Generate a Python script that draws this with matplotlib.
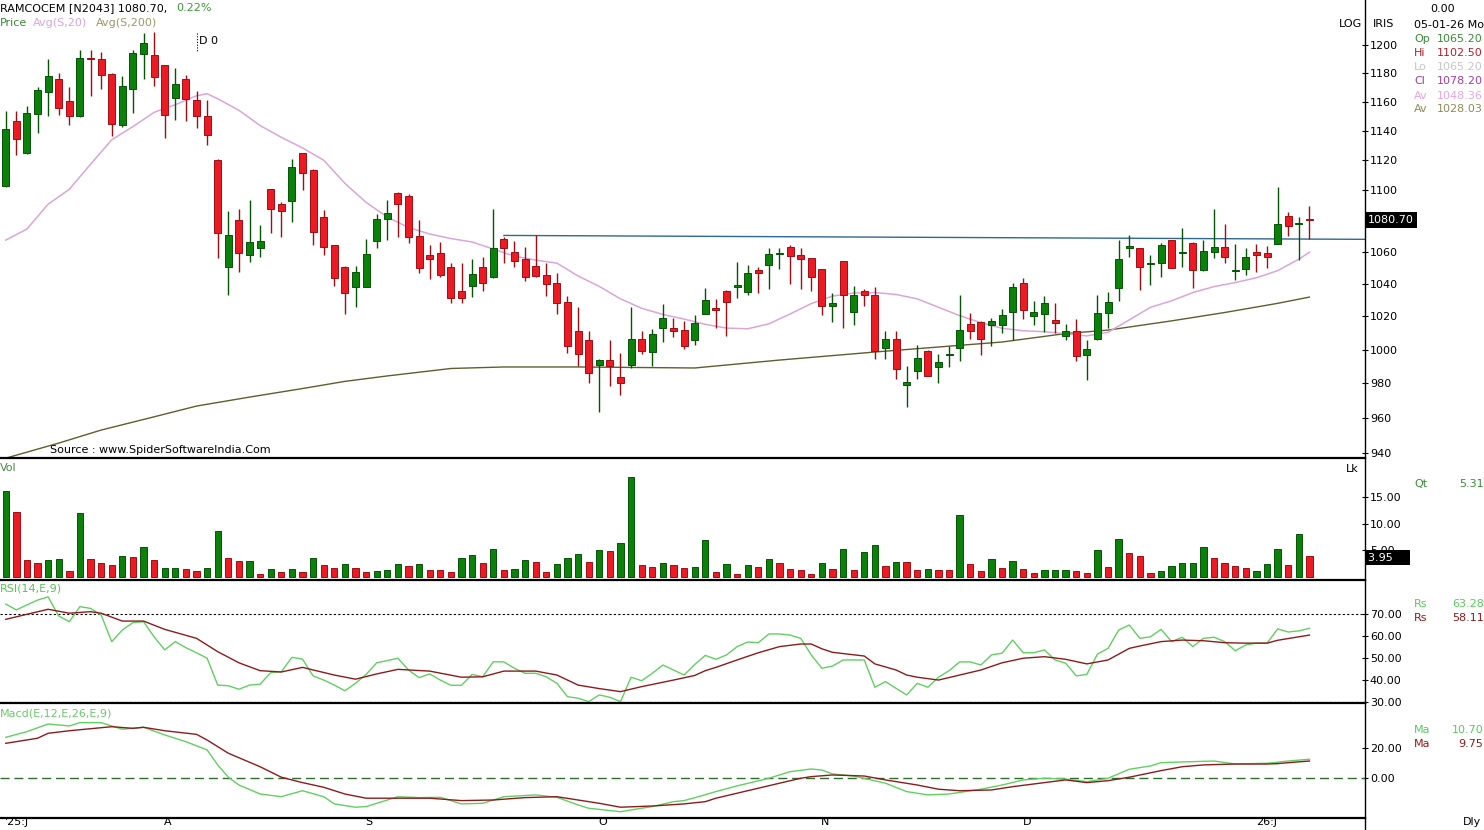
import matplotlib
matplotlib.use("Agg")
import matplotlib.pyplot as plt
import matplotlib.transforms as mtransforms
from matplotlib.lines import Line2D
from matplotlib.ticker import FixedLocator, NullLocator, FuncFormatter
import numpy as np

plt.rcParams["font.family"] = ["DejaVu Sans"]
plt.rcParams["font.size"] = 8

# ---- daily candles, 11 Jul 2025 .. 8 Jan 2026 ----
opens = [1103.1, 1146.9, 1124.6, 1151.5, 1166.9, 1175.9, 1160.7, 1149.9, 1190.5, 1190.0,
         1179.3, 1144.1, 1168.8, 1193.4, 1192.9, 1185.7, 1162.3, 1175.9, 1160.9, 1150.3,
         1120.5, 1050.8, 1080.6, 1058.1, 1062.8, 1100.7, 1090.8, 1093.0, 1124.6, 1113.8,
         1082.4, 1064.5, 1050.8, 1038.0, 1038.4, 1067.3, 1081.1, 1098.5, 1096.1, 1070.3,
         1058.1, 1059.2, 1050.4, 1035.7, 1039.0, 1050.8, 1044.2, 1068.4, 1060.2, 1055.4,
         1051.3, 1045.6, 1040.4, 1028.9, 1011.1, 1005.6, 990.6, 993.7, 983.4, 990.6,
         1006.4, 998.4, 1013.2, 1013.2, 1011.5, 1005.6, 1021.6, 1024.9, 1035.7, 1038.4,
         1035.3, 1048.8, 1051.9, 1058.6, 1063.4, 1058.1, 1056.1, 1049.4, 1026.1, 1054.4,
         1022.6, 1035.9, 1033.3, 1001.0, 1006.4, 979.0, 987.2, 999.4, 989.8, 996.9,
         1001.0, 1015.2, 1016.6, 1014.6, 1014.6, 1022.6, 1040.8, 1020.2, 1021.2, 1017.8,
         1008.0, 1011.1, 996.5, 1006.4, 1021.8, 1037.4, 1062.4, 1062.4, 1052.5, 1053.3,
         1067.7, 1059.2, 1066.0, 1048.8, 1060.2, 1063.4, 1048.2, 1049.2, 1060.2, 1059.6,
         1065.2, 1083.2, 1077.8, 1081.6]
highs = [1153.3, 1153.3, 1157.2, 1170.1, 1189.8, 1180.2, 1170.1, 1196.4, 1196.4, 1195.2,
         1180.2, 1177.9, 1196.4, 1208.4, 1209.6, 1186.0, 1183.4, 1178.6, 1167.1, 1161.4,
         1120.8, 1086.6, 1087.5, 1093.5, 1077.4, 1101.0, 1092.4, 1121.1, 1124.9, 1114.1,
         1087.1, 1064.8, 1051.1, 1051.3, 1068.2, 1084.3, 1093.5, 1098.8, 1097.9, 1080.6,
         1064.5, 1066.7, 1052.9, 1052.9, 1055.6, 1057.1, 1088.1, 1069.5, 1067.3, 1063.4,
         1071.0, 1052.9, 1047.1, 1032.3, 1025.5, 1011.1, 994.1, 1005.6, 998.1, 1025.5,
         1011.1, 1012.5, 1027.9, 1019.2, 1017.2, 1020.6, 1037.4, 1030.5, 1036.0, 1053.9,
         1051.9, 1050.8, 1062.4, 1062.4, 1064.5, 1062.4, 1056.4, 1049.7, 1034.7, 1054.7,
         1038.8, 1037.1, 1038.4, 1011.1, 1011.1, 990.2, 1003.0, 999.7, 997.1, 1002.0,
         1033.3, 1022.2, 1017.2, 1019.2, 1024.4, 1040.4, 1043.5, 1029.5, 1032.7, 1028.1,
         1015.2, 1018.2, 1006.0, 1033.3, 1035.3, 1067.7, 1071.0, 1062.7, 1058.1, 1066.0,
         1068.0, 1075.7, 1066.3, 1067.7, 1088.1, 1078.1, 1065.0, 1062.4, 1065.0, 1063.8,
         1102.5, 1086.0, 1082.8, 1089.6]
lows = [1102.0, 1123.4, 1124.0, 1138.4, 1149.9, 1151.0, 1144.1, 1149.5, 1164.1, 1168.8,
        1136.1, 1142.3, 1152.2, 1175.9, 1171.0, 1135.0, 1147.6, 1146.4, 1141.9, 1130.1,
        1056.1, 1033.3, 1047.7, 1053.9, 1057.1, 1072.1, 1069.5, 1079.5, 1100.5, 1064.5,
        1058.1, 1038.8, 1021.2, 1025.5, 1038.1, 1062.4, 1067.7, 1069.9, 1066.0, 1047.1,
        1042.9, 1044.2, 1028.5, 1028.1, 1031.9, 1035.9, 1043.9, 1052.9, 1050.8, 1042.0,
        1044.5, 1032.3, 1021.2, 998.1, 990.2, 980.4, 963.1, 978.4, 972.9, 989.2,
        997.6, 990.2, 1004.4, 1007.7, 1000.4, 1003.0, 1021.2, 1013.2, 1008.0, 1031.3,
        1033.3, 1034.3, 1036.8, 1049.2, 1039.8, 1036.8, 1035.7, 1020.6, 1016.6, 1013.2,
        1014.6, 1026.4, 994.1, 994.1, 982.4, 966.1, 982.4, 984.0, 980.4, 989.8,
        993.1, 1006.4, 996.5, 1002.0, 1009.7, 1006.0, 1018.6, 1014.6, 1010.5, 1010.1,
        1006.0, 993.1, 981.8, 1005.6, 1013.2, 1029.5, 1056.7, 1036.4, 1039.4, 1044.2,
        1049.8, 1050.8, 1037.4, 1048.4, 1056.1, 1052.9, 1042.5, 1045.6, 1047.7, 1050.2,
        1065.2, 1070.3, 1055.0, 1068.2]
closes = [1141.2, 1134.3, 1152.2, 1167.8, 1177.9, 1155.7, 1149.9, 1190.5, 1189.8, 1178.4,
          1144.6, 1170.6, 1194.5, 1201.7, 1177.4, 1151.0, 1172.4, 1161.9, 1149.9, 1137.2,
          1072.1, 1071.0, 1059.8, 1066.3, 1067.3, 1087.5, 1086.6, 1115.5, 1111.5, 1073.1,
          1063.4, 1043.5, 1034.7, 1047.3, 1058.8, 1081.1, 1084.9, 1090.8, 1069.9, 1049.8,
          1055.4, 1045.6, 1031.3, 1031.3, 1046.3, 1040.4, 1062.4, 1062.4, 1054.5, 1044.5,
          1045.1, 1040.0, 1028.1, 1002.0, 997.1, 986.3, 993.7, 990.2, 980.4, 1006.4,
          999.0, 1009.1, 1019.2, 1011.1, 1002.4, 1016.2, 1029.9, 1024.0, 1028.9, 1039.4,
          1046.7, 1047.1, 1058.8, 1059.2, 1057.5, 1055.4, 1044.5, 1026.4, 1028.1, 1033.3,
          1033.3, 1033.3, 999.0, 1006.4, 988.2, 981.0, 995.1, 984.3, 992.6, 997.6,
          1011.5, 1011.1, 1006.4, 1017.2, 1020.6, 1038.4, 1024.0, 1022.8, 1028.5, 1016.2,
          1011.1, 996.1, 1000.4, 1021.8, 1028.9, 1055.6, 1063.8, 1050.8, 1053.3, 1064.5,
          1050.2, 1060.2, 1048.8, 1060.6, 1063.4, 1057.1, 1048.8, 1056.7, 1058.1, 1056.7,
          1078.2, 1076.8, 1078.3, 1080.7]
# volume in lakh shares, and whether the bar is drawn as an up (green) bar
volumes = [16.2, 12.25, 3.19, 2.69, 3.19, 3.38, 1.19, 12.07, 3.38, 2.69,
           2.31, 4.0, 3.81, 5.69, 3.19, 1.69, 1.69, 1.56, 1.19, 1.69,
           8.63, 3.63, 3.0, 3.0, 0.63, 1.5, 1.0, 1.5, 1.0, 3.56,
           2.31, 1.69, 2.44, 1.69, 1.0, 1.19, 1.31, 2.44, 2.06, 2.44,
           1.31, 1.31, 1.0, 3.56, 4.13, 2.56, 5.25, 1.31, 1.5, 3.19,
           2.81, 1.0, 2.44, 3.56, 4.31, 2.88, 5.06, 4.88, 6.38, 18.76,
           2.31, 1.94, 2.63, 2.31, 1.69, 1.88, 6.94, 0.94, 2.44, 0.56,
           2.25, 1.88, 3.38, 2.63, 1.5, 1.31, 0.56, 2.63, 1.5, 5.25,
           1.31, 4.69, 6.0, 2.06, 2.81, 2.81, 1.31, 1.5, 1.31, 1.31,
           11.63, 2.44, 1.13, 3.38, 1.69, 3.0, 1.5, 0.75, 1.31, 1.31,
           1.31, 1.13, 0.75, 5.06, 1.88, 7.13, 4.5, 3.94, 0.75, 1.13,
           2.06, 2.63, 2.63, 5.63, 3.56, 2.63, 2.06, 1.69, 1.13, 2.44,
           5.31, 2.25, 8.06, 3.95]
vol_up = "GRRRGGRGRRRGRGRGGRRGGRRGRGRGRGRRGRRGGGRGRRRGGRGRGGRRGGGRGRGGRRGRRG" \
         "GRGRGRGRRRRGRGRGGRGRRGRRGRRGRGRRGGGRRGRGRRRGGGGGRRRRGGGRGR"

# moving averages (candle index, value)
ma20_idx = [0, 2, 4, 6, 8, 10, 12, 14, 16, 18, 19, 20, 22, 24, 26, 28, 30, 32, 34, 36,
            38, 40, 42, 44, 46, 48, 50, 52, 54, 56, 58, 60, 62, 64, 66, 68, 70, 72, 74, 76,
            78, 80, 82, 84, 86, 88, 90, 92, 94, 96, 98, 100, 102, 104, 106, 108, 110, 112,
            114, 116, 118, 120, 122, 123]
ma20 = [1067.7, 1074.8, 1090.9, 1100.7, 1117.3, 1133.8, 1142.8, 1152.6, 1157.9, 1164.1,
        1165.5, 1162.0, 1154.0, 1143.5, 1135.5, 1128.3, 1120.0, 1104.6, 1092.1, 1082.5,
        1075.8, 1071.6, 1068.7, 1066.5, 1062.0, 1057.5, 1055.0, 1053.1, 1045.0, 1038.5,
        1030.8, 1025.0, 1021.2, 1018.4, 1015.2, 1012.9, 1012.5, 1015.5, 1021.5, 1027.9,
        1032.5, 1034.4, 1034.7, 1033.5, 1030.8, 1025.6, 1020.5, 1016.2, 1012.8, 1011.3,
        1010.7, 1009.5, 1008.2, 1010.4, 1017.9, 1025.6, 1029.6, 1034.7, 1038.4, 1040.9,
        1043.9, 1048.36, 1055.6, 1060.0]
ma200_idx = [0, 5, 9, 14, 18, 23, 28, 32, 36, 42, 47, 54, 65, 73, 82, 88, 94, 100, 104,
             110, 115, 120, 123]
ma200 = [937.0, 945.5, 952.9, 960.5, 966.7, 971.9, 976.9, 981.1, 984.3, 988.7, 989.6,
         989.6, 989.0, 993.7, 998.5, 1001.5, 1004.5, 1009.6, 1011.7, 1017.3, 1022.4,
         1028.03, 1031.9]
# resistance line drawn from the 47th candle to the right edge
trend_start = 47
trend_vals = [1070.7, 1068.2]

# RSI(14) and its EMA(9)
rsi = [74.7, 72.0, 74.3, 76.5, 78.0, 69.2, 66.6, 73.5, 72.7, 69.7,
       57.5, 62.8, 66.2, 66.6, 59.7, 53.7, 57.5, 54.7, 52.4, 49.9,
       37.6, 37.3, 35.7, 37.6, 38.0, 43.3, 43.7, 50.3, 49.5, 41.8,
       39.9, 37.6, 35.0, 38.4, 42.5, 47.8, 48.8, 49.9, 44.5, 41.0,
       42.7, 39.9, 37.5, 37.5, 42.5, 41.4, 48.3, 48.2, 45.3, 43.0,
       43.0, 41.4, 38.4, 32.3, 31.6, 30.0, 33.1, 32.0, 30.0, 41.2,
       39.6, 43.0, 46.8, 44.5, 42.2, 47.0, 51.2, 49.4, 51.4, 55.2,
       57.3, 57.0, 61.0, 61.0, 60.5, 59.0, 51.4, 45.3, 46.3, 49.1,
       49.1, 49.1, 36.6, 39.2, 36.1, 33.1, 38.4, 36.6, 41.2, 44.2,
       48.2, 48.2, 46.8, 51.4, 52.2, 58.2, 52.4, 52.4, 53.7, 49.1,
       47.6, 41.8, 42.5, 51.8, 54.4, 62.8, 65.1, 59.0, 59.7, 63.1,
       57.5, 59.5, 55.2, 59.0, 59.5, 57.5, 53.3, 56.0, 56.8, 56.8,
       63.3, 61.9, 62.4, 63.6]
rsi_sig_idx = [0, 2, 4, 6, 8, 9, 11, 13, 15, 18, 20, 22, 24, 26, 28, 31, 33, 35, 37, 40,
               43, 45, 47, 50, 52, 54, 56, 58, 60, 63, 65, 66, 67, 69, 71, 73, 75, 76, 77,
               78, 81, 82, 84, 85, 86, 88, 90, 92, 94, 96, 98, 100, 102, 104, 106, 107,
               109, 111, 113, 115, 117, 119, 120, 123]
rsi_sig = [67.7, 70.0, 72.3, 70.5, 71.2, 70.5, 66.9, 66.9, 63.1, 59.0, 52.9, 47.8, 44.2,
           43.6, 45.7, 42.2, 40.3, 42.7, 44.8, 44.0, 41.2, 41.4, 44.0, 44.0, 42.2, 37.6,
           36.0, 34.6, 36.9, 39.9, 42.0, 44.2, 45.7, 49.1, 52.4, 55.2, 56.4, 56.4, 54.2,
           52.6, 50.9, 47.3, 44.5, 42.2, 41.2, 39.9, 42.2, 44.5, 47.8, 49.9, 50.6, 49.4,
           47.3, 49.1, 54.4, 55.5, 57.5, 58.2, 57.9, 57.0, 56.8, 56.8, 58.11, 60.5]

# MACD(12,26) and signal(9)
macd_idx = [0, 2, 4, 6, 7, 9, 11, 13, 15, 17, 19, 20, 21, 22, 24, 26, 28, 30, 31, 33,
            34, 36, 37, 39, 41, 43, 45, 47, 50, 52, 54, 55, 58, 60, 61, 63, 64, 65, 67, 69,
            72, 74, 76, 77, 78, 80, 83, 85, 87, 89, 92, 94, 96, 98, 100, 102, 104, 106, 108,
            109, 112, 114, 116, 119, 120, 121, 123]
macd = [27.3, 31.1, 36.2, 34.9, 37.1, 37.1, 32.7, 34.0, 28.9, 24.4,
        18.9, 8.9, 0.7, -4.5, -10.5, -12.3, -8.3, -12.3, -17.1, -19.3,
        -18.9, -14.5, -12.3, -12.9, -12.7, -17.1, -16.7, -12.3, -11.1, -12.7,
        -17.8, -20.0, -22.3, -20.0, -18.9, -15.6, -14.9, -13.0, -8.9, -5.1,
        0.0, 4.4, 6.2, 5.5, 2.9, 1.5, -3.3, -8.9, -11.1, -10.5,
        -7.3, -4.5, -1.1, 0.0, -0.5, -2.3, 0.0, 6.0, 8.2, 10.4,
        11.1, 11.5, 9.5, 10.0, 10.7, 11.5, 12.7]
sig_idx = [0, 3, 4, 6, 10, 12, 13, 15, 18, 19, 21, 24, 26, 28, 30, 32, 34, 37, 40, 43,
           46, 49, 52, 54, 56, 58, 61, 64, 66, 67, 70, 73, 75, 76, 78, 81, 83, 86, 88, 90,
           93, 95, 98, 100, 102, 104, 106, 109, 111, 113, 116, 119, 120, 121, 123]
sig = [23.3, 26.7, 30.0, 31.7, 34.4, 33.3, 34.0, 31.7, 29.3, 25.5,
       16.7, 7.7, 0.7, -2.9, -6.0, -10.5, -13.3, -13.3, -13.3, -14.9,
       -14.5, -12.9, -12.3, -14.5, -16.7, -19.3, -18.5, -17.1, -15.6, -13.3,
       -8.3, -3.3, 0.0, 1.1, 2.2, 1.5, -1.1, -4.5, -7.3, -8.3,
       -7.8, -5.6, -2.9, -1.1, -2.9, -1.6, 0.7, 5.1, 7.7, 8.9,
       9.5, 9.5, 9.75, 10.4, 11.5]

month_labels = ["'25:J", "A", "S", "O", "N", "D", "26:J"]
month_start = [0, 15, 34, 56, 77, 96, 118]
price_ticks = [940, 960, 980, 1000, 1020, 1040, 1060, 1100, 1120, 1140, 1160, 1180, 1200]

# ---- layout (pixel based) ----
W, H = 1484, 830
AX_R = 1365
XLIM = (-0.54, 128.24)
FS = 8
fig = plt.figure(figsize=(W / 100, H / 100), dpi=100)


def panel(top, bottom):
    ax = fig.add_axes([0, 1 - bottom / H, AX_R / W, (bottom - top) / H])
    ax.set_xlim(*XLIM)
    ax.spines["top"].set_visible(False)
    ax.spines["left"].set_visible(False)
    ax.spines["bottom"].set_linewidth(1.6)
    ax.spines["right"].set_linewidth(1.0)
    ax.set_xticks([])
    ax.yaxis.tick_right()
    ax.tick_params(axis="y", direction="inout", length=5, width=0.8, pad=1, labelsize=FS)
    ax.patch.set_alpha(0)
    return ax


def ftext(x, y, s, color="black", **kw):
    fig.text(x / W, 1 - y / H, s, color=color, va="center", fontsize=FS, **kw)


def value_box(ax, value, label):
    # black price/volume marker box sitting on the right axis
    bt = mtransforms.blended_transform_factory(ax.transAxes, ax.transData)
    ax.text(1.0 + 3 / AX_R, value, label, transform=bt, color="white",
            ha="left", va="center", fontsize=FS, clip_on=False, zorder=10,
            bbox=dict(boxstyle="square,pad=0.25", fc="black", ec="none"))


GREEN, GREEN_E = "#0b800b", "#055405"
RED, RED_E = "#ec1b23", "#a10d12"

o, h, l, c = (np.array(a) for a in (opens, highs, lows, closes))
x = np.arange(len(c))
up = c >= o
fill = [GREEN if u else RED for u in up]
edge = [GREEN_E if u else RED_E for u in up]

# price panel
ax_p = panel(0, 458)
ax_p.set_yscale("log")
ax_p.set_ylim(937.1, 1232.8)
ax_p.yaxis.set_major_locator(FixedLocator(price_ticks))
ax_p.yaxis.set_minor_locator(NullLocator())
ax_p.yaxis.set_major_formatter(FuncFormatter(lambda v, _: f"{v:.0f}"))
ax_p.plot(ma200_idx, ma200, color="#5e5e30", lw=1.0, zorder=1)
ax_p.plot(ma20_idx, ma20, color="#d9a6da", lw=1.1, zorder=1)
ax_p.plot([trend_start, XLIM[1]], trend_vals, color="#2e6990", lw=1.0, zorder=1)
ax_p.vlines(x, l, h, colors=edge, lw=1.0, zorder=2)
lo_b = np.minimum(o, c)
ax_p.bar(x, np.maximum(np.abs(c - o), 0.6), bottom=lo_b, width=0.66,
         color=fill, edgecolor=edge, lw=0.7, zorder=3)
value_box(ax_p, c[-1], f"{c[-1]:.2f}")
bt_top = mtransforms.blended_transform_factory(ax_p.transData, ax_p.transAxes)
ax_p.plot([18, 18], [1 - 33 / 458, 1 - 52 / 458], transform=bt_top, color="black",
          lw=0.8, ls=(0, (1, 1.5)), clip_on=False)

# volume panel
vfill = [GREEN if f == "G" else RED for f in vol_up]
vedge = [GREEN_E if f == "G" else RED_E for f in vol_up]
ax_v = panel(458, 580)
ax_v.set_ylim(-0.56, 22.3)
ax_v.bar(x, volumes, width=0.6, color=vfill, edgecolor=vedge, lw=0.7)
ax_v.set_yticks([5, 10, 15])
ax_v.set_yticklabels(["5.00", "10.00", "15.00"])
value_box(ax_v, volumes[-1] - 0.3, f"{volumes[-1]:.2f}" + "\u2007" * 2)

# RSI panel
ax_r = panel(580, 703)
ax_r.set_ylim(29.4, 85.7)
for lvl in (70, 30):
    ax_r.axhline(lvl, color="black", lw=0.8, ls=(0, (2, 2)))
ax_r.plot(x, rsi, color="#62cf62", lw=1.0)
ax_r.plot(rsi_sig_idx, rsi_sig, color="#8c1c1c", lw=1.0)
ax_r.set_yticks([30, 40, 50, 60, 70])
ax_r.set_yticklabels([f"{v:.2f}" for v in (30, 40, 50, 60, 70)])

# MACD panel
ax_m = panel(703, 818)
ax_m.set_ylim(-26.5, 50.2)
ax_m.axhline(0, color="#2c6e2c", lw=1.0, ls=(0, (6.5, 3.5)))
ax_m.plot(macd_idx, macd, color="#62cf62", lw=1.0)
ax_m.plot(sig_idx, sig, color="#8c1c1c", lw=1.0)
ax_m.set_yticks([0, 20])
ax_m.set_yticklabels(["0.00", "20.00"])
bt_m = mtransforms.blended_transform_factory(ax_m.transData, ax_m.transAxes)
for i, lab in zip(month_start, month_labels):
    ax_m.text(i - 0.05, -4 / 115, lab, transform=bt_m, ha="left", va="center",
              fontsize=FS, clip_on=False)

fig.add_artist(Line2D([AX_R / W, AX_R / W], [0, 1 - 818 / H], transform=fig.transFigure,
                      color="black", lw=1.0))

# header texts
ftext(0, 8, f"RAMCOCEM [N2043] {c[-1]:.2f},")
ftext(176, 8, "0.22%", color="#3b9a3b")
ftext(0, 23, "Price", color="#3a8a3a")
ftext(33, 23, "Avg(S,20)", color="#d9a6da")
ftext(96, 23, "Avg(S,200)", color="#9a9a6a")
ftext(199, 41, "D 0")
ftext(50, 450, "Source : www.SpiderSoftwareIndia.Com")
ftext(1339, 24, "LOG")
ftext(1373, 24, "IRIS")
ftext(1430, 9, "0.00")
ftext(1414, 25, "05-01-26 Mo")
info = [("Op", "1065.20", "#3a8c3a"), ("Hi", "1102.50", "#b3202c"),
        ("Lo", "1065.20", "#c6c6c6"), ("Cl", "1078.20", "#a23ea2"),
        ("Av", "1048.36", "#e0a8e0"), ("Av", "1028.03", "#8c8c58")]
for k, (lab, val, col) in enumerate(info):
    yy = 39.5 + k * 14
    ftext(1414, yy, lab, color=col)
    ftext(1437, yy, val, color=col)

ftext(0, 468, "Vol", color="#4a8a4a")
ftext(1346, 469, "Lk")
ftext(1414, 484, "Qt", color="#3a8c3a")
ftext(1459, 484, "5.31", color="#3a8c3a")
ftext(0, 588, "RSI(14,E,9)", color="#5cc05c")
ftext(1414, 604, "Rs", color="#5cc85c")
ftext(1452, 604, "63.28", color="#5cc85c")
ftext(1414, 618, "Rs", color="#8c1c1c")
ftext(1452, 618, "58.11", color="#8c1c1c")
ftext(0, 713, "Macd(E,12,E,26,E,9)", color="#6cc86c")
ftext(1414, 730, "Ma", color="#5cc85c")
ftext(1452, 730, "10.70", color="#5cc85c")
ftext(1414, 744, "Ma", color="#8c1c1c")
ftext(1458, 744, "9.75", color="#8c1c1c")
ftext(1463, 822, "Dly")

fig.savefig("out.png", dpi=100)
